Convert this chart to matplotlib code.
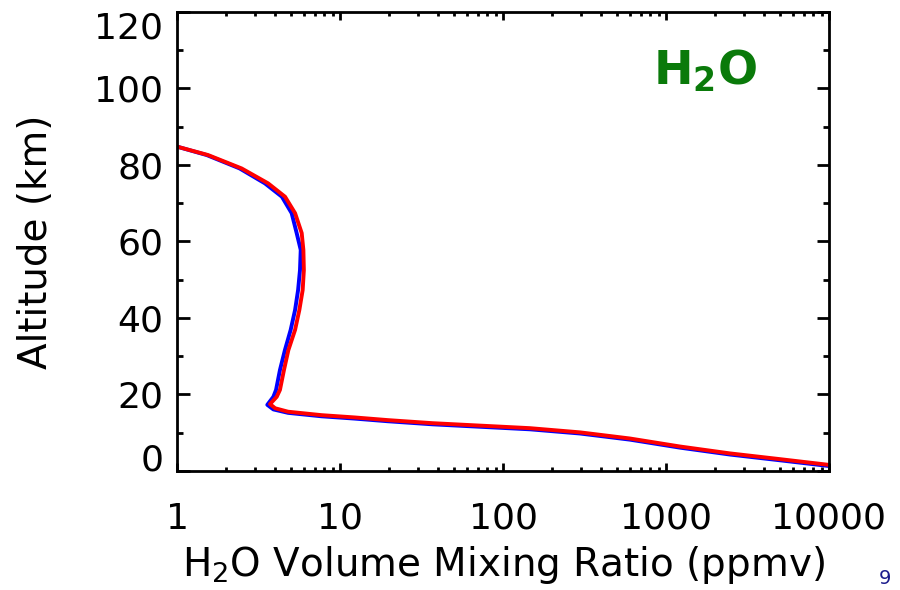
import matplotlib
matplotlib.use("Agg")
import matplotlib.pyplot as plt
import matplotlib.transforms as mtransforms
from matplotlib.ticker import FixedLocator, LogLocator, NullFormatter

# H2O profiles: altitude (km) vs volume mixing ratio (ppmv)
alt_red = [1.6, 3.1, 4.6, 6.4, 8.5, 10.1, 11.2, 12.5, 13.3, 14.0, 14.6, 15.5, 16.4,
           17.5, 19.4, 21.2, 26.4, 31.6, 36.9, 42.1, 47.3, 52.5, 57.8, 62.2, 67.4,
           71.7, 75.2, 79.1, 82.6, 84.8]
vmr_red = [10000, 5000, 2470, 1220, 600, 297, 146, 37, 19.7, 12.3, 7.7, 4.8, 4.0,
           3.72, 4.09, 4.28, 4.53, 4.82, 5.3, 5.63, 5.9, 6.0, 5.96, 5.82, 5.3,
           4.6, 3.62, 2.49, 1.55, 1.0]

alt_blue = [1.3, 2.8, 4.3, 6.1, 8.2, 9.8, 10.9, 12.2, 13.0, 13.7, 14.3, 15.2, 16.1,
            17.3, 19.4, 21.2, 26.4, 31.6, 36.9, 42.1, 47.3, 52.5, 57.8, 62.2, 67.4,
            71.7, 75.2, 79.1, 82.6, 84.8]
vmr_blue = [10000, 5000, 2470, 1220, 600, 297, 146, 37, 19.7, 12.3, 7.7, 4.8, 3.9,
            3.58, 3.9, 4.05, 4.28, 4.59, 4.98, 5.3, 5.53, 5.68, 5.74, 5.42, 5.05,
            4.4, 3.46, 2.42, 1.52, 1.0]

xticks = [1, 10, 100, 1000, 10000]
xlabels = ["1", "10", "100", "1000", "10000"]
yticks = [0, 20, 40, 60, 80, 100, 120]

fig = plt.figure(figsize=(9, 5.9), dpi=100)
ax = fig.add_axes([0.1967, 0.2017, 0.7244, 0.778])

ax.plot(vmr_blue, alt_blue, color="blue", lw=2.8, solid_capstyle="round",
        solid_joinstyle="round")
ax.plot(vmr_red, alt_red, color="red", lw=2.8, solid_capstyle="round",
        solid_joinstyle="round")

ax.set_xscale("log")
ax.set_xlim(1, 10000)
ax.set_ylim(0, 120)

ax.xaxis.set_major_locator(FixedLocator(xticks))
ax.set_xticklabels(xlabels)
ax.xaxis.set_minor_locator(LogLocator(base=10, subs=range(2, 10)))
ax.xaxis.set_minor_formatter(NullFormatter())
ax.yaxis.set_major_locator(FixedLocator(yticks))
ax.yaxis.set_minor_locator(FixedLocator(range(10, 120, 20)))

for s in ax.spines.values():
    s.set_linewidth(2)
ax.tick_params(which="both", direction="in", top=True, right=True, width=2, labelsize=26)
ax.tick_params(axis="x", which="major", length=6, pad=22)
ax.tick_params(axis="x", which="minor", length=3)
ax.tick_params(axis="y", which="major", length=9, pad=10)
ax.tick_params(axis="y", which="minor", length=4.5)

# end labels on the altitude axis sit inside the axis range
ticks = ax.yaxis.get_major_ticks()
for tick, dy in ((ticks[0], 14), (ticks[-1], -13)):
    lab = tick.label1
    lab.set_transform(lab.get_transform() +
                      mtransforms.ScaledTranslation(0, dy / 100, fig.dpi_scale_trans))

ax.set_xlabel(r"H$_2$O Volume Mixing Ratio (ppmv)", fontsize=28)
ax.xaxis.set_label_coords(0.5, -0.16)
ax.set_ylabel("Altitude (km)", fontsize=28)
ax.yaxis.set_label_coords(-0.187, 0.5)

ax.text(0.81, 0.87, r"$\mathbf{H_2O}$", transform=ax.transAxes, color="#0a7a0a",
        fontsize=34, ha="center", va="center")

# page number in the corner
fig.text(885 / 900, 1 - 579 / 590, "9", color="#1c1c8c", fontsize=14,
         ha="center", va="center")

fig.savefig("out.png", dpi=100)
